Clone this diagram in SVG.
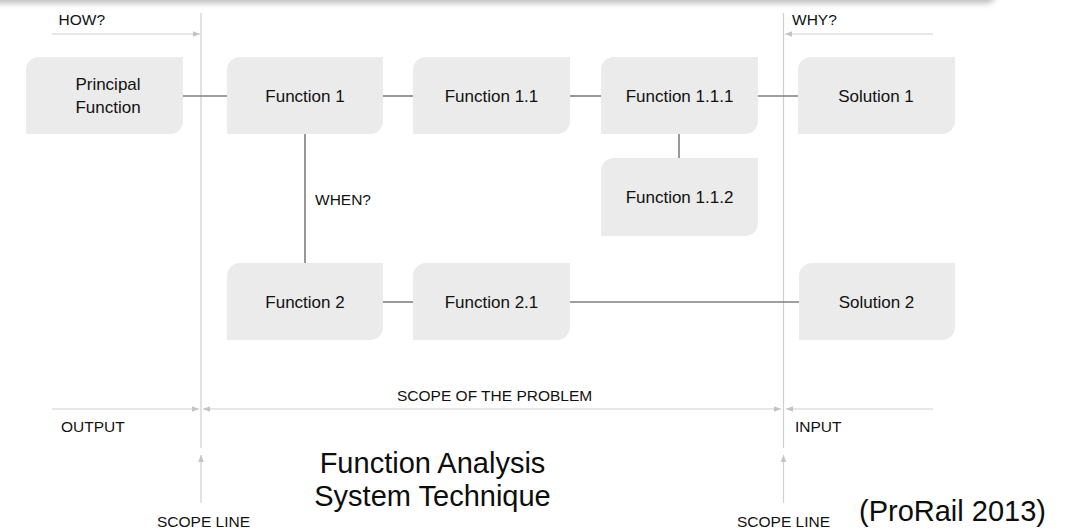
<svg xmlns="http://www.w3.org/2000/svg" width="1069" height="529" viewBox="0 0 1069 529">
  <defs>
    <style>
      .node path { fill: #ebebeb; }
      .node text { font-family: "Liberation Sans", Arial, sans-serif; font-size: 17px; fill: #111111; text-anchor: middle; }
      .conn line { stroke: #7f7f7f; stroke-width: 1.6; }
      .scope line { stroke: #cfcfcf; stroke-width: 1.2; }
      .lbl { font-family: "Liberation Sans", Arial, sans-serif; font-size: 15.5px; fill: #111111; }
      .title { font-family: "Liberation Sans", Arial, sans-serif; font-size: 29px; fill: #0d0d0d; }
    </style>
    <marker id="tip" viewBox="0 0 10 10" refX="10" refY="5" markerWidth="7" markerHeight="7" markerUnits="userSpaceOnUse" orient="auto">
      <path d="M0,1 L10,5 L0,9 Z" fill="#c4c4c4"/>
    </marker>
    <filter id="soft" x="-5%" y="-200%" width="110%" height="500%">
      <feGaussianBlur stdDeviation="3"/>
    </filter>
  </defs>

  <rect width="1069" height="529" fill="#ffffff"/>

  <!-- soft shadow along the top edge -->
  <rect x="-20" y="-14" width="1015" height="17" rx="8" fill="#8a8a8a" opacity="0.6" filter="url(#soft)"/>

  <!-- scope lines and direction arrows -->
  <g id="scope" class="scope">
    <line x1="201" y1="13" x2="201" y2="448"/>
    <line x1="201" y1="503" x2="201" y2="455" marker-end="url(#tip)"/>
    <line x1="783.5" y1="13" x2="783.5" y2="448"/>
    <line x1="783.5" y1="503" x2="783.5" y2="455" marker-end="url(#tip)"/>
    <line x1="52" y1="34" x2="200" y2="34" marker-end="url(#tip)"/>
    <line x1="933" y1="34" x2="785" y2="34" marker-end="url(#tip)"/>
    <line x1="52" y1="409" x2="199" y2="409" marker-end="url(#tip)"/>
    <line x1="492" y1="409" x2="203" y2="409" marker-end="url(#tip)"/>
    <line x1="492" y1="409" x2="781" y2="409" marker-end="url(#tip)"/>
    <line x1="933" y1="409" x2="786" y2="409" marker-end="url(#tip)"/>
  </g>

  <!-- connectors between functions -->
  <g id="connectors" class="conn">
    <line x1="183" y1="96" x2="227" y2="96"/>
    <line x1="383" y1="96" x2="413" y2="96"/>
    <line x1="570" y1="96" x2="601" y2="96"/>
    <line x1="758" y1="96" x2="798" y2="96"/>
    <line x1="679" y1="134" x2="679" y2="158"/>
    <line x1="305" y1="134" x2="305" y2="263"/>
    <line x1="383" y1="302" x2="413" y2="302"/>
    <line x1="570" y1="302" x2="799" y2="302"/>
  </g>

  <!-- nodes: rounded top-left and bottom-right corners -->
  <g id="principal-function" class="node">
    <path d="M39,57 H183 V121 A13,13 0 0 1 170,134 H26 V70 A13,13 0 0 1 39,57 Z"/>
    <text x="108" y="90">Principal</text>
    <text x="108" y="113">Function</text>
  </g>
  <g id="function-1" class="node">
    <path d="M240,57 H383 V121 A13,13 0 0 1 370,134 H227 V70 A13,13 0 0 1 240,57 Z"/>
    <text x="305" y="101.5">Function 1</text>
  </g>
  <g id="function-1-1" class="node">
    <path d="M426,57 H570 V121 A13,13 0 0 1 557,134 H413 V70 A13,13 0 0 1 426,57 Z"/>
    <text x="491.5" y="101.5">Function 1.1</text>
  </g>
  <g id="function-1-1-1" class="node">
    <path d="M614,57 H758 V121 A13,13 0 0 1 745,134 H601 V70 A13,13 0 0 1 614,57 Z"/>
    <text x="679.5" y="101.5">Function 1.1.1</text>
  </g>
  <g id="solution-1" class="node">
    <path d="M811,57 H955 V121 A13,13 0 0 1 942,134 H798 V70 A13,13 0 0 1 811,57 Z"/>
    <text x="876" y="101.5">Solution 1</text>
  </g>
  <g id="function-1-1-2" class="node">
    <path d="M614,158 H758 V223 A13,13 0 0 1 745,236 H601 V171 A13,13 0 0 1 614,158 Z"/>
    <text x="679.5" y="203">Function 1.1.2</text>
  </g>
  <g id="function-2" class="node">
    <path d="M240,263 H383 V327 A13,13 0 0 1 370,340 H227 V276 A13,13 0 0 1 240,263 Z"/>
    <text x="305" y="307.5">Function 2</text>
  </g>
  <g id="function-2-1" class="node">
    <path d="M426,263 H570 V327 A13,13 0 0 1 557,340 H413 V276 A13,13 0 0 1 426,263 Z"/>
    <text x="491.5" y="307.5">Function 2.1</text>
  </g>
  <g id="solution-2" class="node">
    <path d="M812,263 H955 V327 A13,13 0 0 1 942,340 H799 V276 A13,13 0 0 1 812,263 Z"/>
    <text x="876.5" y="307.5">Solution 2</text>
  </g>

  <!-- labels -->
  <g id="labels">
    <text class="lbl" x="58.5" y="25" font-size="16">HOW?</text>
    <text class="lbl" x="792" y="25" font-size="16">WHY?</text>
    <text class="lbl" x="315" y="205" font-size="16">WHEN?</text>
    <text class="lbl" x="397" y="400.5" font-size="15">SCOPE OF THE PROBLEM</text>
    <text class="lbl" x="61" y="432">OUTPUT</text>
    <text class="lbl" x="795" y="432">INPUT</text>
    <text class="lbl" x="157" y="527" font-size="14.5">SCOPE LINE</text>
    <text class="lbl" x="737" y="527" font-size="14.5">SCOPE LINE</text>
    <text class="title" x="432.5" y="473" text-anchor="middle">Function Analysis</text>
    <text class="title" x="432.5" y="506" text-anchor="middle">System Technique</text>
    <text class="title" x="859" y="521">(ProRail 2013)</text>
  </g>
</svg>
